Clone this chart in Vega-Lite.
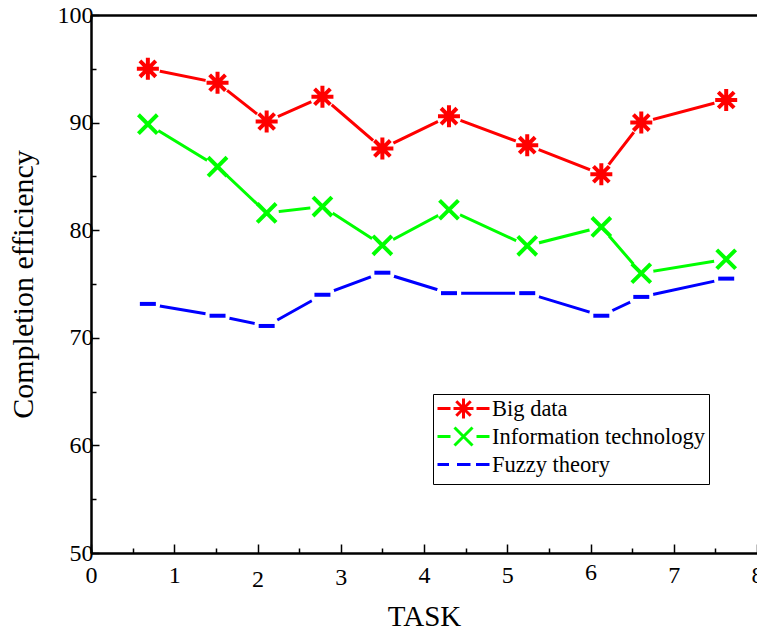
{
  "$schema": "https://vega.github.io/schema/vega-lite/v6.json",
  "width": 666,
  "height": 538,
  "autosize": {"type": "none"},
  "padding": {"left": 91, "top": 15, "right": 0, "bottom": 82},
  "background": "white",
  "config": {"view": {"stroke": null}, "font": "Liberation Serif"},
  "data": {
    "values": [
      {"task": 0.683, "value": 95.0, "series": "Big data"},
      {"task": 1.52, "value": 93.7, "series": "Big data"},
      {"task": 2.11, "value": 90.1, "series": "Big data"},
      {"task": 2.78, "value": 92.4, "series": "Big data"},
      {"task": 3.5, "value": 87.6, "series": "Big data"},
      {"task": 4.3, "value": 90.6, "series": "Big data"},
      {"task": 5.24, "value": 87.9, "series": "Big data"},
      {"task": 6.13, "value": 85.2, "series": "Big data"},
      {"task": 6.61, "value": 90.0, "series": "Big data"},
      {"task": 7.63, "value": 92.1, "series": "Big data"},
      {"task": 0.683, "value": 89.85, "series": "Information technology"},
      {"task": 1.52, "value": 85.9, "series": "Information technology"},
      {"task": 2.11, "value": 81.6, "series": "Information technology"},
      {"task": 2.78, "value": 82.2, "series": "Information technology"},
      {"task": 3.5, "value": 78.6, "series": "Information technology"},
      {"task": 4.3, "value": 81.9, "series": "Information technology"},
      {"task": 5.24, "value": 78.55, "series": "Information technology"},
      {"task": 6.13, "value": 80.3, "series": "Information technology"},
      {"task": 6.61, "value": 76.0, "series": "Information technology"},
      {"task": 7.63, "value": 77.3, "series": "Information technology"},
      {"task": 0.683, "value": 73.15, "series": "Fuzzy theory"},
      {"task": 1.52, "value": 72.05, "series": "Fuzzy theory"},
      {"task": 2.11, "value": 71.1, "series": "Fuzzy theory"},
      {"task": 2.78, "value": 74.0, "series": "Fuzzy theory"},
      {"task": 3.5, "value": 76.05, "series": "Fuzzy theory"},
      {"task": 4.3, "value": 74.15, "series": "Fuzzy theory"},
      {"task": 5.24, "value": 74.15, "series": "Fuzzy theory"},
      {"task": 6.13, "value": 72.05, "series": "Fuzzy theory"},
      {"task": 6.61, "value": 73.8, "series": "Fuzzy theory"},
      {"task": 7.63, "value": 75.5, "series": "Fuzzy theory"}
    ]
  },
  "layer": [
    {
      "mark": {"type": "line", "strokeWidth": 3},
      "encoding": {
        "x": {
          "field": "task", "type": "quantitative",
          "scale": {"domain": [0, 8], "nice": false, "zero": false},
          "axis": {
            "orient": "bottom",
            "values": [0, 1, 2, 3, 4, 5, 6, 7, 8],
            "grid": false, "tickSize": -9, "tickWidth": 1.5, "tickColor": "black",
            "domainWidth": 2, "domainColor": "black",
            "labelFont": "Liberation Serif", "labelFontSize": 24, "labelColor": "black",
            "labelPadding": {
              "condition": [
                {"test": "datum.value == 2", "value": 23},
                {"test": "datum.value == 3", "value": 21},
                {"test": "datum.value == 6", "value": 16}
              ],
              "value": 19
            },
            "labelFlush": false, "labelOverlap": false,
            "title": "TASK", "titleFont": "Liberation Serif", "titleFontSize": 29,
            "titleFontWeight": "normal", "titleColor": "black", "titlePadding": 11
          }
        },
        "y": {
          "field": "value", "type": "quantitative",
          "scale": {"domain": [50, 100], "nice": false, "zero": false},
          "axis": {
            "orient": "left",
            "values": [50, 60, 70, 80, 90, 100],
            "grid": false, "tickSize": -8, "tickWidth": 1.5, "tickColor": "black",
            "domainWidth": 2, "domainColor": "black",
            "labelFont": "Liberation Serif", "labelFontSize": 24, "labelColor": "black",
            "labelPadding": 6, "labelFlush": false, "labelOverlap": false,
            "title": "Completion efficiency", "titleFont": "Liberation Serif", "titleFontSize": 30,
            "titleFontWeight": "normal", "titleColor": "black", "titlePadding": 19
          }
        },
        "stroke": {
          "field": "series", "type": "nominal",
          "scale": {
            "domain": ["Big data", "Information technology", "Fuzzy theory"],
            "range": ["#ff0000", "#00ff00", "#0000ff"]
          },
          "legend": {
            "title": null, "orient": "none", "legendX": 342, "legendY": 379,
            "labelFont": "Liberation Serif", "labelFontSize": 22.5, "labelColor": "black", "labelLimit": 400,
            "symbolSize": 400, "symbolStrokeWidth": 3, "symbolOpacity": 1,
            "symbolOffset": 16, "labelOffset": 17, "rowPadding": -5.5, "padding": 3,
            "strokeColor": "black", "fillColor": "white"
          }
        }
      }
    },
    {
      "mark": {"type": "point", "shape": "circle", "filled": true, "fill": "white", "opacity": 1, "size": 600, "strokeWidth": 0},
      "encoding": {
        "x": {
          "field": "task", "type": "quantitative",
          "axis": {
            "orient": "bottom",
            "values": [0.5, 1.5, 2.5, 3.5, 4.5, 5.5, 6.5, 7.5],
            "grid": false, "tickSize": -5, "tickWidth": 1.5, "tickColor": "black",
            "domainWidth": 2, "domainColor": "black", "labels": false, "title": null
          }
        },
        "y": {
          "field": "value", "type": "quantitative",
          "axis": {
            "orient": "left",
            "values": [55, 65, 75, 85, 95],
            "grid": false, "tickSize": -5, "tickWidth": 1.5, "tickColor": "black",
            "domainWidth": 2, "domainColor": "black", "labels": false, "title": null
          }
        }
      }
    },
    {
      "transform": [{"filter": "datum.series == 'Big data'"}],
      "mark": {"type": "point", "shape": "M-1,0L1,0M0,-1L0,1M-0.72,-0.72L0.72,0.72M-0.72,0.72L0.72,-0.72", "filled": false, "stroke": "#ff0000", "strokeWidth": 4, "size": 484, "opacity": 1},
      "encoding": {
        "x": {
          "field": "task", "type": "quantitative",
          "axis": {"orient": "top", "domainWidth": 2.5, "domainColor": "black", "ticks": false, "labels": false, "grid": false, "title": null}
        },
        "y": {"field": "value", "type": "quantitative", "axis": null}
      }
    },
    {
      "transform": [{"filter": "datum.series == 'Information technology'"}],
      "mark": {"type": "point", "shape": "M-0.9,-0.9L0.9,0.9M-0.9,0.9L0.9,-0.9", "filled": false, "stroke": "#00ff00", "strokeWidth": 4, "size": 441, "opacity": 1},
      "encoding": {
        "x": {"field": "task", "type": "quantitative", "axis": null},
        "y": {"field": "value", "type": "quantitative", "axis": null}
      }
    },
    {
      "transform": [{"filter": "datum.series == 'Fuzzy theory'"}],
      "mark": {"type": "point", "shape": "M-1,0L1,0", "filled": false, "stroke": "#0000ff", "strokeWidth": 4, "size": 256, "opacity": 1},
      "encoding": {
        "x": {"field": "task", "type": "quantitative", "axis": null},
        "y": {"field": "value", "type": "quantitative", "axis": null}
      }
    },
    {
      "transform": [{"filter": "datum.task < 0"}],
      "mark": {"type": "point", "filled": false, "opacity": 1, "size": 400, "strokeWidth": 3},
      "encoding": {
        "x": {"field": "task", "type": "quantitative", "axis": null},
        "y": {"field": "value", "type": "quantitative", "axis": null},
        "shape": {
          "field": "series", "type": "nominal",
          "scale": {
            "domain": ["Big data", "Information technology", "Fuzzy theory"],
            "range": [
              "M0,-1M0,1M-2.6,0L-1.3,0M1.3,0L2.6,0M-1,0L1,0M0,-1L0,1M-0.72,-0.72L0.72,0.72M-0.72,0.72L0.72,-0.72",
              "M0,-1M0,1M-2.6,0L-1.3,0M1.3,0L2.6,0M-0.9,-0.9L0.9,0.9M-0.9,0.9L0.9,-0.9",
              "M0,-1M0,1M-2.6,0L-1.45,0M-0.65,0L0.7,0M1.25,0L2.6,0"
            ]
          },
          "legend": {
            "title": null, "orient": "none", "legendX": 342, "legendY": 379,
            "labelFont": "Liberation Serif", "labelFontSize": 22.5, "labelColor": "black", "labelLimit": 400,
            "symbolSize": 400, "symbolStrokeWidth": 3, "symbolOpacity": 1,
            "symbolOffset": 16, "labelOffset": 17, "rowPadding": -5.5, "padding": 3,
            "strokeColor": "black", "fillColor": "white"
          }
        },
        "stroke": {
          "field": "series", "type": "nominal",
          "legend": {
            "title": null, "orient": "none", "legendX": 342, "legendY": 379,
            "labelFont": "Liberation Serif", "labelFontSize": 22.5, "labelColor": "black", "labelLimit": 400,
            "symbolSize": 400, "symbolStrokeWidth": 3, "symbolOpacity": 1,
            "symbolOffset": 16, "labelOffset": 17, "rowPadding": -5.5, "padding": 3,
            "strokeColor": "black", "fillColor": "white"
          }
        }
      }
    }
  ],
  "resolve": {"axis": {"x": "independent", "y": "independent"}}
}
